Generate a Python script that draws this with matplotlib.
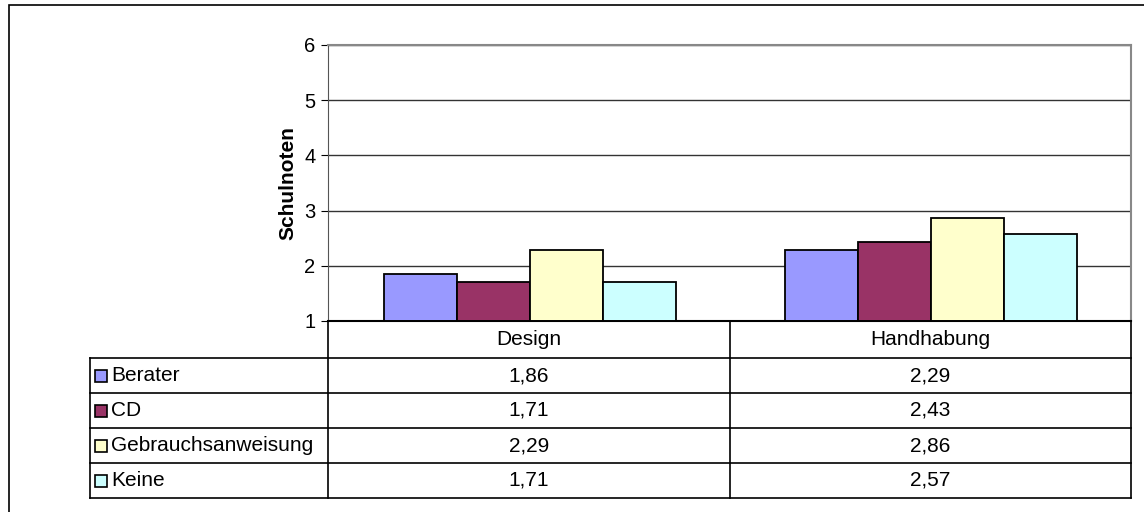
import numpy as np
import matplotlib.pyplot as plt
from matplotlib.patches import Rectangle

plt.rcParams['font.family'] = ['Liberation Sans', 'DejaVu Sans']

kategorien = ["Design", "Handhabung"]
reihen = ["Berater", "CD", "Gebrauchsanweisung", "Keine"]
farben = ["#9999FF", "#993366", "#FFFFCC", "#CCFFFF"]
berater = [1.86, 2.29]
cd = [1.71, 2.43]
gebrauch = [2.29, 2.86]
keine = [1.71, 2.57]
werte = [berater, cd, gebrauch, keine]

W, H = 1144, 512
fig = plt.figure(figsize=(W / 100, H / 100), dpi=100)

def px(x0, y0, x1, y1):
    # pixel box -> figure fraction
    return [x0 / W, 1 - y1 / H, (x1 - x0) / W, (y1 - y0) / H]

# outer chart frame
fig.patches.append(Rectangle((9 / W, -0.1), 1.2, 1 - 5 / H + 0.1, transform=fig.transFigure,
                             fill=False, ec="black", lw=1.2))

ax = fig.add_axes(px(328, 45, 1131, 321))
bw = 73 / 402
start = 56 / 402
x = np.arange(len(kategorien))
for i, (name, vals, c) in enumerate(zip(reihen, werte, farben)):
    ax.bar(x + start + i * bw, np.array(vals) - 1, bottom=1, width=bw, align="edge",
           color=c, edgecolor="black", lw=1.3, zorder=3)
ax.set_xlim(0, len(kategorien))
ax.set_ylim(1, 6)
ax.set_yticks(range(1, 7))
ax.set_xticks([])
ax.tick_params(axis="y", labelsize=14.5, length=5, direction="out", pad=4)
ax.yaxis.grid(True, color="#333333", lw=1)
for s in ["top", "right"]:
    ax.spines[s].set_color("#888888")
    ax.spines[s].set_linewidth(1.5)
ax.spines["left"].set_color("#555555")
ax.spines["bottom"].set_color("black")
ax.spines["bottom"].set_linewidth(1.5)
ax.set_ylabel("Schulnoten", fontsize=15, fontweight="bold", labelpad=5)

# data table below the plot
tx = fig.add_axes(px(90, 321, 1131, 500))
tx.set_xlim(90, 1131)
tx.set_ylim(500, 321)
tx.axis("off")
cols = [328, 730, 1131]
rows = [321, 358, 393, 428, 463, 498]
lk = dict(color="black", lw=1.2, clip_on=False)
tx.plot([328, 1131], [321, 321], **lk)
for y in rows[1:]:
    tx.plot([90, 1131], [y, y], **lk)
tx.plot([90, 90], [358, 498], **lk)
for c in cols:
    tx.plot([c, c], [321, 498], **lk)
for j, k in enumerate(kategorien):
    tx.text((cols[j] + cols[j + 1]) / 2, (rows[0] + rows[1]) / 2, k,
            ha="center", va="center", fontsize=15)
for i, (name, vals, c) in enumerate(zip(reihen, werte, farben)):
    yc = (rows[i + 1] + rows[i + 2]) / 2
    tx.add_patch(Rectangle((95, yc - 6), 12, 12, fc=c, ec="black", lw=1.2, clip_on=False))
    tx.text(111, yc, name, ha="left", va="center", fontsize=15)
    for j, v in enumerate(vals):
        tx.text((cols[j] + cols[j + 1]) / 2, yc, f"{v:.2f}".replace(".", ","),
                ha="center", va="center", fontsize=15)

fig.savefig("out.png", dpi=100)
